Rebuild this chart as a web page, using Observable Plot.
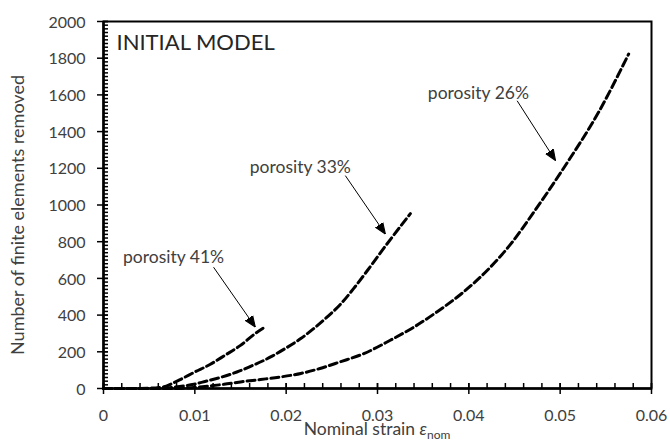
<!DOCTYPE html>
<html><head><meta charset="utf-8">
<script src="https://cdn.jsdelivr.net/npm/d3@7"></script>
<script src="https://cdn.jsdelivr.net/npm/@observablehq/plot@0.6"></script>
<style>body{margin:0;background:#fff}#chart{width:670px;height:441px}</style>
</head><body><div id="chart"></div>
<script>
// Series: nominal strain vs number of finite elements removed
const strain41 = [0, 0.004, 0.0066, 0.0075, 0.0086, 0.01, 0.0117, 0.0133, 0.015, 0.0166, 0.0178];
const removed41 = [0, 0, 9, 27, 54, 90, 132, 181, 235, 299, 339];
const strain33 = [0, 0.006, 0.008, 0.0099, 0.0113, 0.013, 0.0146, 0.0164, 0.0183, 0.0199, 0.0216, 0.023, 0.0245, 0.026, 0.0275, 0.029, 0.031, 0.0336];
const removed33 = [0, 0, 9, 23, 41, 63, 90, 127, 172, 218, 272, 326, 390, 462, 552, 650, 785, 953];
const strain26 = [0, 0.0075, 0.0099, 0.0113, 0.0132, 0.015, 0.0172, 0.0194, 0.0216, 0.0237, 0.0259, 0.0285, 0.0314, 0.034, 0.0365, 0.0394, 0.042, 0.0446, 0.047, 0.0505, 0.0542, 0.0575];
const removed26 = [0, 0, 5, 12, 23, 36, 49, 63, 82, 109, 145, 190, 263, 335, 417, 525, 643, 788, 953, 1210, 1505, 1823];

// Axis ticks
const xMajorTicks = [0, 0.01, 0.02, 0.03, 0.04, 0.05, 0.06];
const xTickLabels = ["0", "0.01", "0.02", "0.03", "0.04", "0.05", "0.06"];
const yMajorTicks = [0, 200, 400, 600, 800, 1000, 1200, 1400, 1600, 1800, 2000];
const yTickLabels = ["0", "200", "400", "600", "800", "1000", "1200", "1400", "1600", "1800", "2000"];
const xMinorStep = 0.002;
const yMinorStep = 20;

// Annotations
const annLabels = ["porosity 41%", "porosity 33%", "porosity 26%"];
const annTextX = [0.00767, 0.02155, 0.04105];
const annTextY = [716, 1205, 1607];
const arrowX1 = [0.01205, 0.02648, 0.04529];
const arrowY1 = [661, 1160, 1568];
const arrowX2 = [0.01662, 0.03086, 0.04949];
const arrowY2 = [335, 842, 1242];

const series = [
  {name: "41%", x: strain41, y: removed41},
  {name: "33%", x: strain33, y: removed33},
  {name: "26%", x: strain26, y: removed26}
];
const rows = series.flatMap(s => s.x.map((x, i) => ({porosity: s.name, strain: x, removed: s.y[i]})));
const xMinor = d3.range(Math.round(0.06 / xMinorStep) + 1).map(i => +(i * xMinorStep).toFixed(4));
const yMinor = d3.range(2000 / yMinorStep + 1).map(i => i * yMinorStep);

const font = "Lato, 'Open Sans', sans-serif";
const ink = "#404040";

const W = 670, H = 441, mL = 103, mR = 19, mT = 21, mB = 53;
const frameW = W - mL - mR, frameH = H - mT - mB;

function filledArrow(color, context) {
  const ns = "http://www.w3.org/2000/svg";
  const m = document.createElementNS(ns, "marker");
  m.setAttribute("viewBox", "-10 -5 10 10");
  m.setAttribute("markerUnits", "userSpaceOnUse");
  m.setAttribute("markerWidth", 11);
  m.setAttribute("markerHeight", 11);
  m.setAttribute("orient", "auto");
  const p = document.createElementNS(ns, "path");
  p.setAttribute("d", "M-10,-4L0,0L-10,4Z");
  p.setAttribute("fill", "black");
  m.appendChild(p);
  return m;
}

const plot = Plot.plot({
  width: W, height: H,
  marginLeft: mL, marginRight: mR, marginTop: mT, marginBottom: mB,
  style: {fontFamily: font, background: "white", color: ink},
  x: {domain: [0, 0.06], label: null, axis: null},
  y: {domain: [0, 2000], label: null, axis: null},
  marks: [
    // minor ticks (inside)
    Plot.ruleX(xMinor, {x: d => d, insetTop: frameH - 5, stroke: "black", strokeWidth: 1.5}),
    Plot.ruleY(yMinor, {y: d => d, insetRight: frameW - 5, stroke: "black", strokeWidth: 1.5}),
    // major ticks (crossing)
    Plot.ruleX(xMajorTicks, {x: d => d, insetTop: frameH - 5, insetBottom: -6, stroke: "black", strokeWidth: 1.5}),
    Plot.ruleY(yMajorTicks, {y: d => d, insetRight: frameW - 5, insetLeft: -6, stroke: "black", strokeWidth: 1.5}),
    // tick labels
    Plot.text(xMajorTicks, {x: d => d, frameAnchor: "bottom", dy: 27, text: (d, i) => xTickLabels[i], textAnchor: "middle", lineAnchor: "middle", fontSize: 16, fill: ink}),
    Plot.text(yMajorTicks, {y: d => d, frameAnchor: "left", dx: -18, dy: 1, text: (d, i) => yTickLabels[i], textAnchor: "end", lineAnchor: "middle", fontSize: 16, fill: ink}),
    Plot.frame({stroke: "black", strokeWidth: 2}),
    Plot.ruleY([0], {stroke: "black", strokeWidth: 2.5}),
    Plot.ruleX([0], {stroke: "black", strokeWidth: 2.5}),
    Plot.line(rows, {x: "strain", y: "removed", z: "porosity", stroke: "black", strokeWidth: 3, strokeDasharray: "8,4", curve: "monotone-x"}),
    Plot.link(annLabels, {x1: (d, i) => arrowX1[i], y1: (d, i) => arrowY1[i], x2: (d, i) => arrowX2[i], y2: (d, i) => arrowY2[i], stroke: "black", strokeWidth: 1, markerEnd: filledArrow}),
    Plot.text(annLabels, {x: (d, i) => annTextX[i], y: (d, i) => annTextY[i], text: d => d, fontSize: 17.5, fill: ink}),
    Plot.text(["INITIAL MODEL"], {frameAnchor: "top-left", dx: 13, dy: 13, fontSize: 22, fill: "#262626"}),
    Plot.text(["Number of finite elements removed"], {frameAnchor: "left", dx: -85, dy: 10, rotate: -90, textAnchor: "middle", lineAnchor: "middle", fontSize: 18, fill: ink})
  ]
});

const svg = d3.select(plot);
const xl = svg.append("text")
  .attr("x", 377).attr("y", 434.5)
  .attr("text-anchor", "middle")
  .attr("font-family", font).attr("font-size", 17.5).attr("fill", ink);
xl.append("tspan").text("Nominal strain ");
xl.append("tspan").attr("font-style", "italic").text("ε");
xl.append("tspan").attr("font-size", 12).attr("dy", 4).text("nom");

document.getElementById("chart").appendChild(plot);
</script>
</body></html>
